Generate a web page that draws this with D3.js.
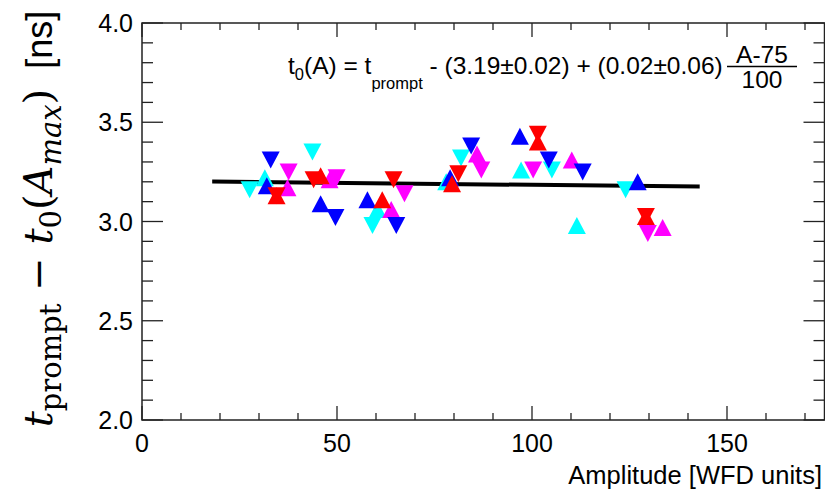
<!DOCTYPE html>
<html>
<head>
<meta charset="utf-8">
<script src="https://cdn.jsdelivr.net/npm/d3@7"></script>
<style>
  body { margin: 0; background: #fff; }
  svg { display: block; }
</style>
</head>
<body>
<div id="vis"></div>
<script>
// frame and plot dimensions
const FRAME_WIDTH = 825;
const FRAME_HEIGHT = 496;
const MARGINS = {left: 142, right: 0.5, top: 23, bottom: 76};

// axis ranges and tick values
const X_DOMAIN = [0, 175];
const Y_DOMAIN = [2.0, 4.0];
const X_TICKS = [0, 50, 100, 150];
const Y_TICKS = [2.0, 2.5, 3.0, 3.5, 4.0];

// measurements [amplitude, t_prompt - t0], one array per colour / marker
const cyanDown = [[27.6, 3.16], [43.7, 3.35], [59.1, 2.98], [81.8, 3.32], [105.1, 3.26], [124.0, 3.16]];
const cyanUp = [[31.5, 3.22], [60.4, 3.06], [78.0, 3.20], [97.2, 3.26], [111.5, 2.98]];
const magentaDown = [[37.6, 3.25], [49.9, 3.22], [67.3, 3.14], [87.0, 3.26], [100.3, 3.26], [129.7, 2.94]];
const magentaUp = [[37.3, 3.17], [48.1, 3.21], [63.9, 3.06], [85.9, 3.34], [110.2, 3.31], [133.5, 2.97]];
const blueDown = [[33.0, 3.31], [49.6, 3.02], [65.2, 2.98], [84.4, 3.38], [104.3, 3.31], [113.0, 3.25]];
const blueUp = [[32.0, 3.18], [45.8, 3.09], [57.8, 3.11], [79.0, 3.22], [96.9, 3.43], [127.1, 3.20]];
const redDown = [[34.5, 3.13], [44.0, 3.21], [64.5, 3.21], [81.1, 3.24], [101.5, 3.44], [129.2, 3.025]];
const redUp = [[34.5, 3.13], [45.8, 3.23], [61.6, 3.11], [79.5, 3.19], [101.5, 3.40], [129.2, 3.025]];

// fitted straight line, end points
const fitA = [18, 143];
const fitV = [3.201, 3.176];

const SERIES = [
  {data: cyanDown, color: "#00ffff", dir: "down"},
  {data: cyanUp, color: "#00ffff", dir: "up"},
  {data: magentaDown, color: "#ff00ff", dir: "down"},
  {data: magentaUp, color: "#ff00ff", dir: "up"},
  {data: blueDown, color: "#0000ff", dir: "down"},
  {data: blueUp, color: "#0000ff", dir: "up"},
  {data: redDown, color: "#ff0000", dir: "down"},
  {data: redUp, color: "#ff0000", dir: "up"}
];

const svg = d3.select("#vis")
  .append("svg")
    .attr("width", FRAME_WIDTH)
    .attr("height", FRAME_HEIGHT);

const X_SCALE = d3.scaleLinear()
  .domain(X_DOMAIN)
  .range([MARGINS.left, FRAME_WIDTH - MARGINS.right]);
const Y_SCALE = d3.scaleLinear()
  .domain(Y_DOMAIN)
  .range([FRAME_HEIGHT - MARGINS.bottom, MARGINS.top]);

const x0 = X_SCALE.range()[0], x1 = X_SCALE.range()[1];
const y0 = Y_SCALE.range()[0], y1 = Y_SCALE.range()[1];

// ticks: major + minor on all four sides (ROOT style)
const xMinor = d3.range(0, 176, 10);
const yMinor = d3.range(20, 41).map(d => d / 10);
const tickG = svg.append("g").attr("stroke", "#222").attr("stroke-width", 1.3);

xMinor.forEach(v => {
  const len = (v % 50 === 0) ? 14 : 7;
  const x = X_SCALE(v);
  tickG.append("line").attr("x1", x).attr("x2", x).attr("y1", y0).attr("y2", y0 - len);
  tickG.append("line").attr("x1", x).attr("x2", x).attr("y1", y1).attr("y2", y1 + len);
});
yMinor.forEach(v => {
  const len = (Math.round(v * 10) % 5 === 0) ? 21 : 11;
  const y = Y_SCALE(v);
  tickG.append("line").attr("x1", x0).attr("x2", x0 + len).attr("y1", y).attr("y2", y);
  tickG.append("line").attr("x1", x1).attr("x2", x1 - len).attr("y1", y).attr("y2", y);
});

// frame
svg.append("rect")
  .attr("x", x0).attr("y", y1)
  .attr("width", x1 - x0).attr("height", y0 - y1)
  .attr("fill", "none").attr("stroke", "#222").attr("stroke-width", 1.5);

// tick labels
svg.append("g").selectAll("text")
  .data(X_TICKS).enter()
  .append("text")
    .attr("x", d => X_SCALE(d))
    .attr("y", 452)
    .attr("text-anchor", "middle")
    .attr("font-family", "Liberation Sans, Arial, sans-serif")
    .attr("font-size", 25)
    .text(d => d);

svg.append("g").selectAll("text")
  .data(Y_TICKS).enter()
  .append("text")
    .attr("x", 133)
    .attr("y", d => Y_SCALE(d) + 9)
    .attr("text-anchor", "end")
    .attr("font-family", "Liberation Sans, Arial, sans-serif")
    .attr("font-size", 25)
    .text(d => d.toFixed(1));

// x title
svg.append("text")
  .attr("x", 822).attr("y", 484)
  .attr("text-anchor", "end")
  .attr("font-family", "Liberation Sans, Arial, sans-serif")
  .attr("font-size", 25.5)
  .text("Amplitude [WFD units]");

// y title (math part in serif)
const yTitle = svg.append("text")
  .attr("transform", "translate(52,219) rotate(-90)")
  .attr("text-anchor", "middle")
  .attr("font-family", "DejaVu Serif, serif")
  .attr("font-size", 40);
yTitle.append("tspan").attr("font-style", "italic").text("t");
yTitle.append("tspan").attr("font-size", 29).attr("dy", 9).text("prompt");
yTitle.append("tspan").attr("dy", -9).text(" \u2212 ");
yTitle.append("tspan").attr("font-style", "italic").text("t");
yTitle.append("tspan").attr("font-size", 29).attr("dy", 9).text("0");
yTitle.append("tspan").attr("dy", -9).text("(");
yTitle.append("tspan").attr("font-style", "italic").text("A");
yTitle.append("tspan").attr("font-style", "italic").attr("font-size", 29).attr("dy", 9).text("max");
yTitle.append("tspan").attr("dy", -9).text(")");
yTitle.append("tspan")
  .attr("font-family", "Liberation Sans, Arial, sans-serif")
  .attr("font-size", 36)
  .text("\u00a0 [ns]");

// fit line
const fitData = fitA.map((a, i) => [a, fitV[i]]);
svg.append("path")
  .datum(fitData)
  .attr("fill", "none")
  .attr("stroke", "#000")
  .attr("stroke-width", 4)
  .attr("d", d3.line().x(d => X_SCALE(d[0])).y(d => Y_SCALE(d[1])));

// triangle markers
const TW = 18, TH = 17;
function triPath(dir) {
  const s = dir === "up" ? 1 : -1;
  return "M0," + (-s * TH / 2) + "L" + (TW / 2) + "," + (s * TH / 2) + "L" + (-TW / 2) + "," + (s * TH / 2) + "Z";
}
SERIES.forEach(ser => {
  svg.append("g").selectAll("path")
    .data(ser.data).enter()
    .append("path")
      .attr("transform", d => "translate(" + X_SCALE(d[0]) + "," + Y_SCALE(d[1]) + ")")
      .attr("d", triPath(ser.dir))
      .attr("fill", ser.color);
});

// fit formula
const fs = 24.5;
const f = svg.append("text")
  .attr("x", 288).attr("y", 74)
  .attr("font-family", "Liberation Sans, Arial, sans-serif")
  .attr("font-size", fs);
f.append("tspan").text("t");
f.append("tspan").attr("font-size", 16.5).attr("dy", 6).text("0");
f.append("tspan").attr("dy", -6).text("(A) = t");
f.append("tspan").attr("font-size", 16.5).attr("dy", 15).text("prompt");
f.append("tspan").attr("dy", -15).text(" - (3.19\u00b10.02) + (0.02\u00b10.06)");

svg.append("text")
  .attr("x", 762).attr("y", 63)
  .attr("text-anchor", "middle")
  .attr("font-family", "Liberation Sans, Arial, sans-serif")
  .attr("font-size", fs)
  .text("A-75");
svg.append("line")
  .attr("x1", 727).attr("x2", 797).attr("y1", 66.5).attr("y2", 66.5)
  .attr("stroke", "#000").attr("stroke-width", 1.5);
svg.append("text")
  .attr("x", 762).attr("y", 88)
  .attr("text-anchor", "middle")
  .attr("font-family", "Liberation Sans, Arial, sans-serif")
  .attr("font-size", fs)
  .text("100");
</script>
</body>
</html>
